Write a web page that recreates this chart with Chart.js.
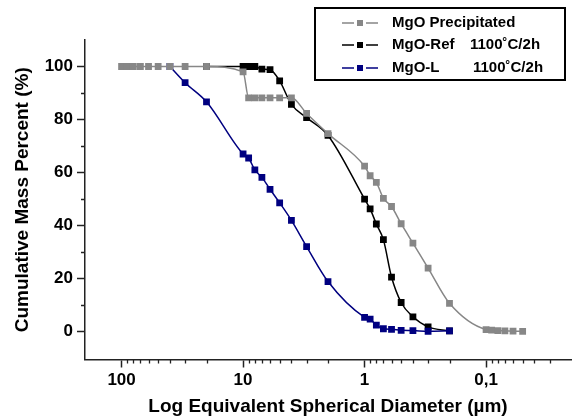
<!DOCTYPE html>
<html>
<head>
<meta charset="utf-8">
<script src="https://cdn.jsdelivr.net/npm/chart.js@4"></script>
<style>
  body { margin: 0; background: #fff; }
  #wrap { width: 576px; height: 420px; }
</style>
</head>
<body>
<div id="wrap"><canvas id="psd" width="576" height="420"></canvas></div>
<script>
// particle size distribution data (diameter in µm, cumulative mass %)
const precipDiam = [100, 90, 80, 70, 60, 50, 40, 30, 20, 10, 9, 8, 7, 6, 5, 4, 3, 2, 1, 0.9, 0.8, 0.7, 0.6, 0.5, 0.4, 0.3, 0.2, 0.1, 0.09, 0.08, 0.07, 0.06, 0.05];
const precipMass = [100, 100, 100, 100, 100, 100, 100, 100, 100, 98, 88.2, 88.2, 88.2, 88.2, 88.2, 88.2, 82.3, 74.7, 62.4, 58.8, 56.3, 50.3, 47.2, 40.7, 33.4, 24.0, 10.7, 0.8, 0.6, 0.4, 0.3, 0.2, 0.1];

const refDiam = [20, 10, 9, 8, 7, 6, 5, 4, 3, 2, 1, 0.9, 0.8, 0.7, 0.6, 0.5, 0.4, 0.3, 0.2];
const refMass = [100, 100, 100, 100, 99, 98.8, 94.6, 85.7, 80.7, 74.0, 50.0, 46.3, 40.6, 34.7, 20.6, 11.0, 5.6, 1.8, 0.3];

const lDiam = [40, 30, 20, 10, 9, 8, 7, 6, 5, 4, 3, 2, 1, 0.9, 0.8, 0.7, 0.6, 0.5, 0.4, 0.3, 0.2];
const lMass = [100, 93.9, 86.7, 67.0, 65.5, 61.0, 58.2, 53.7, 48.6, 42.0, 32.1, 18.9, 5.4, 4.7, 2.5, 1.1, 0.9, 0.5, 0.4, 0.15, 0.3];

const seriesNames = ['MgO Precipitated', 'MgO-Ref', 'MgO-L'];
const seriesNotes = ['', '1100˚C/2h', '1100˚C/2h'];

const xTicks = [100, 10, 1, 0.1];
const xTickLabels = ['100', '10', '1', '0,1'];
const xMinor = [90, 80, 70, 60, 50, 40, 30, 20, 9, 8, 7, 6, 5, 4, 3, 2, 0.9, 0.8, 0.7, 0.6, 0.5, 0.4, 0.3, 0.2, 0.09, 0.08, 0.07, 0.06, 0.05, 0.04, 0.03];
const yTicks = [0, 20, 40, 60, 80, 100];
const yMinor = [10, 30, 50, 70, 90];

const colors = ['#878787', '#000000', '#000080'];
const FONT = "'Liberation Sans', Arial, sans-serif";

function pts(d, m) {
    return d.map((v, i) => ({ x: v, y: m[i] }));
}

function makeSet(i, data, order) {
    return {
        label: seriesNames[i],
        data: data,
        borderColor: colors[i],
        backgroundColor: colors[i],
        borderWidth: 1.5,
        pointStyle: 'rect',
        pointRadius: 4.8,
        pointBorderWidth: 0,
        cubicInterpolationMode: 'monotone',
        order: order
    };
}

// minor ticks + legend box
const extras = {
    id: 'extras',
    afterDraw(chart) {
        const ctx = chart.ctx;
        const xs = chart.scales.x, ys = chart.scales.y;
        const area = chart.chartArea;
        ctx.save();
        ctx.strokeStyle = '#222';
        ctx.lineWidth = 1.3;
        ctx.beginPath();
        xMinor.forEach(v => {
            const px = Math.round(xs.getPixelForValue(v)) + 0.5;
            ctx.moveTo(px, area.bottom);
            ctx.lineTo(px, area.bottom + 4);
        });
        yMinor.forEach(v => {
            const py = Math.round(ys.getPixelForValue(v)) + 0.5;
            ctx.moveTo(area.left, py);
            ctx.lineTo(area.left - 4, py);
        });
        ctx.stroke();

        // legend
        ctx.lineWidth = 2;
        ctx.strokeStyle = '#000';
        ctx.strokeRect(315, 8, 250, 72);
        const rows = [23, 45, 68];
        ctx.font = 'bold 15px ' + FONT;
        ctx.textBaseline = 'middle';
        rows.forEach((y, i) => {
            ctx.strokeStyle = colors[i];
            ctx.lineWidth = 1.5;
            ctx.beginPath();
            ctx.moveTo(342, y); ctx.lineTo(354, y);
            ctx.moveTo(366, y); ctx.lineTo(378, y);
            ctx.stroke();
            ctx.fillStyle = colors[i];
            ctx.fillRect(357, y - 3, 6, 6);
            ctx.fillStyle = '#000';
            ctx.fillText(seriesNames[i], 392, y);
            if (seriesNotes[i]) ctx.fillText(seriesNotes[i], i === 1 ? 470 : 473, y);
        });
        ctx.restore();
    }
};

new Chart(document.getElementById('psd'), {
    type: 'line',
    data: {
        datasets: [
            makeSet(0, pts(precipDiam, precipMass), 0),
            makeSet(1, pts(refDiam, refMass), 2),
            makeSet(2, pts(lDiam, lMass), 1)
        ]
    },
    options: {
        responsive: false,
        animation: false,
        layout: { padding: { top: 40, right: 5, left: 0, bottom: 0 } },
        plugins: { legend: { display: false }, tooltip: { enabled: false } },
        scales: {
            x: {
                type: 'logarithmic',
                reverse: true,
                min: 0.02,
                max: 200,
                afterFit: s => { s.height = 60.5; },
                afterBuildTicks: s => { s.ticks = xTicks.map(v => ({ value: v })); },
                grid: { drawOnChartArea: false, tickLength: 8, tickWidth: 1.5, tickColor: '#222' },
                border: { color: '#222', width: 1.5 },
                ticks: {
                    autoSkip: false,
                    maxRotation: 0,
                    padding: 3,
                    color: '#000',
                    font: { family: FONT, size: 17, weight: 'bold' },
                    callback: v => {
                        const k = xTicks.indexOf(v);
                        return k >= 0 ? xTickLabels[k] : '';
                    }
                },
                title: {
                    display: true,
                    text: 'Log Equivalent Spherical Diameter (µm)',
                    color: '#000',
                    font: { family: FONT, size: 19, weight: 'bold' },
                    padding: { top: 0, bottom: 2 }
                }
            },
            y: {
                min: -10.5,
                max: 110,
                afterFit: s => { s.width = 85; },
                afterBuildTicks: s => { s.ticks = yTicks.map(v => ({ value: v })); },
                grid: { drawOnChartArea: false, tickLength: 8, tickWidth: 1.5, tickColor: '#222' },
                border: { color: '#222', width: 1.5 },
                ticks: {
                    padding: 4,
                    color: '#000',
                    font: { family: FONT, size: 17, weight: 'bold' }
                },
                title: {
                    display: true,
                    text: 'Cumulative Mass Percent (%)',
                    color: '#000',
                    font: { family: FONT, size: 19, weight: 'bold' },
                    padding: { top: 11, bottom: 0 }
                }
            }
        }
    },
    plugins: [extras]
});
</script>
</body>
</html>
